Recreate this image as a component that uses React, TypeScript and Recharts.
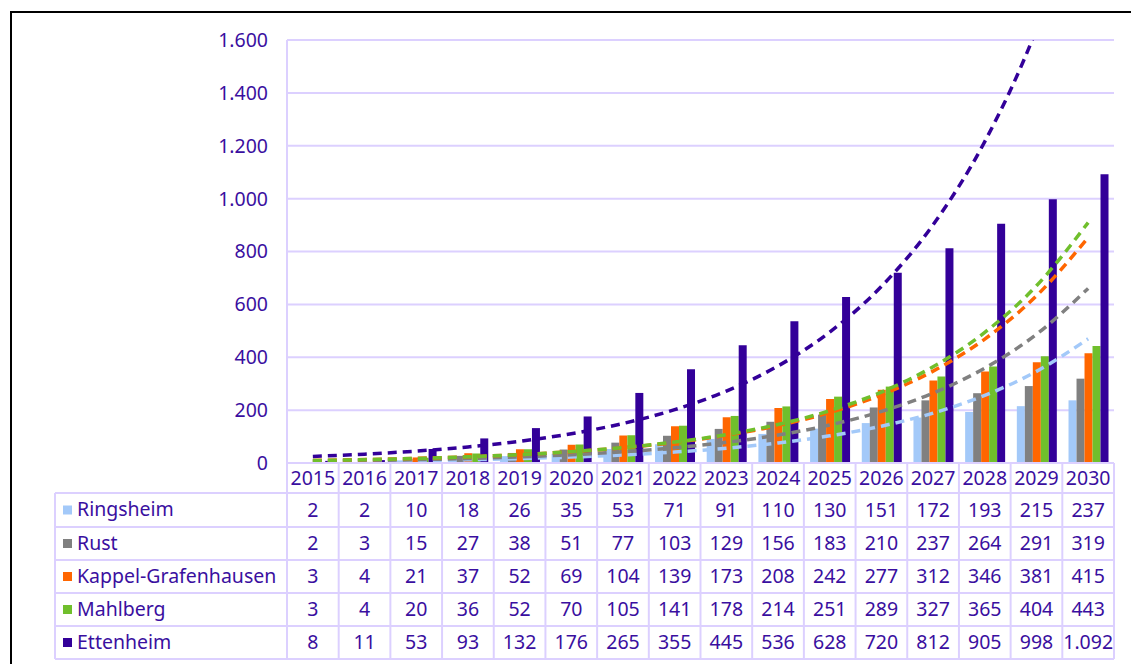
import React from "react";
import { BarChart, Bar, Line, XAxis, YAxis, CartesianGrid } from "recharts";

// Charging points per municipality, 2015–2030
const years = ["2015", "2016", "2017", "2018", "2019", "2020", "2021", "2022", "2023", "2024", "2025", "2026", "2027", "2028", "2029", "2030"];
const ringsheim = [2, 2, 10, 18, 26, 35, 53, 71, 91, 110, 130, 151, 172, 193, 215, 237];
const rust = [2, 3, 15, 27, 38, 51, 77, 103, 129, 156, 183, 210, 237, 264, 291, 319];
const kappel = [3, 4, 21, 37, 52, 69, 104, 139, 173, 208, 242, 277, 312, 346, 381, 415];
const mahlberg = [3, 4, 20, 36, 52, 70, 105, 141, 178, 214, 251, 289, 327, 365, 404, 443];
const ettenheim = [8, 11, 53, 93, 132, 176, 265, 355, 445, 536, 628, 720, 812, 905, 998, 1092];
const yTicks = [0, 200, 400, 600, 800, 1000, 1200, 1400, 1600];

const seriesNames = ["Ringsheim", "Rust", "Kappel-Grafenhausen", "Mahlberg", "Ettenheim"];
const seriesKeys = ["ringsheim", "rust", "kappel", "mahlberg", "ettenheim"];
const seriesValues = [ringsheim, rust, kappel, mahlberg, ettenheim];
const seriesColors = ["#A3C9F9", "#808080", "#FF6600", "#70BF2C", "#330099"];

const TEXT = "#3A0FA0";
const GRID = "#DCD0FF";
const FONT = "'Noto Sans', 'Open Sans', sans-serif";
const FONT_SIZE = 19.5;

// Layout
const W = 1131;
const H = 664;
const PLOT_LEFT = 287;
const PLOT_RIGHT = 1114;
const PLOT_TOP = 40;
const PLOT_BOTTOM = 463;
const COL_W = (PLOT_RIGHT - PLOT_LEFT) / years.length;
const TABLE_LEFT = 55;
const ROW_LINES = [493, 527, 560, 593, 626, 659];

// Exponential least-squares trendline (fit of ln(y) against x)
function expTrend(values: number[]): number[] {
  const n = values.length;
  const xs = values.map((_, i) => i + 1);
  const ls = values.map((v) => Math.log(v));
  const mx = xs.reduce((a, b) => a + b, 0) / n;
  const my = ls.reduce((a, b) => a + b, 0) / n;
  let sxy = 0;
  let sxx = 0;
  for (let i = 0; i < n; i++) {
    sxy += (xs[i] - mx) * (ls[i] - my);
    sxx += (xs[i] - mx) * (xs[i] - mx);
  }
  const b = sxy / sxx;
  const a = my - b * mx;
  return xs.map((x) => Math.exp(a + b * x));
}

const trends = seriesValues.map(expTrend);

const data = years.map((year, i) => {
  const row: Record<string, number | string> = { year };
  seriesKeys.forEach((k, s) => {
    row[k] = seriesValues[s][i];
    row[k + "Trend"] = trends[s][i];
  });
  return row;
});

const fmt = (v: number) => String(v).replace(/\B(?=(\d{3})+(?!\d))/g, ".");

// Each x-axis tick draws one column of the data table beneath the plot
function TableColumn(props: any) {
  const { x, index, payload } = props;
  const left = x - COL_W / 2;
  const right = x + COL_W / 2;
  const isLast = index === years.length - 1;
  const textStyle = { fill: TEXT, fontSize: FONT_SIZE, fontFamily: FONT };
  return (
    <g>
      {index === 0 && (
        <g>
          {ROW_LINES.map((ly) => (
            <line key={ly} x1={TABLE_LEFT} x2={PLOT_RIGHT} y1={ly} y2={ly} stroke={GRID} strokeWidth={2} />
          ))}
          <line x1={TABLE_LEFT} x2={TABLE_LEFT} y1={ROW_LINES[0]} y2={ROW_LINES[5]} stroke={GRID} strokeWidth={2} />
          {seriesNames.map((name, s) => {
            const cy = (ROW_LINES[s] + ROW_LINES[s + 1]) / 2;
            return (
              <g key={name}>
                <rect x={63} y={cy - 4.5} width={9} height={9} fill={seriesColors[s]} />
                <text x={77} y={cy} dy="0.33em" {...textStyle}>{name}</text>
              </g>
            );
          })}
        </g>
      )}
      <line x1={left} x2={left} y1={PLOT_BOTTOM} y2={ROW_LINES[5]} stroke={GRID} strokeWidth={2} />
      {isLast && <line x1={right} x2={right} y1={PLOT_BOTTOM} y2={ROW_LINES[5]} stroke={GRID} strokeWidth={2} />}
      <text x={x} y={(PLOT_BOTTOM + ROW_LINES[0]) / 2} dy="0.35em" textAnchor="middle" {...textStyle}>
        {payload.value}
      </text>
      {seriesValues.map((vals, s) => (
        <text key={s} x={x} y={(ROW_LINES[s] + ROW_LINES[s + 1]) / 2} dy="0.35em" textAnchor="middle" {...textStyle}>
          {fmt(vals[index])}
        </text>
      ))}
    </g>
  );
}

export default function App() {
  return (
    <div style={{ position: "absolute", left: 0, top: 0, width: W, height: H, overflow: "hidden", background: "#fff" }}>
      <div
        style={{
          position: "absolute",
          left: 10,
          top: 11,
          width: W + 20,
          height: H + 20,
          borderTop: "2px solid #000",
          borderLeft: "2px solid #000",
        }}
      />
      <div style={{ position: "absolute", left: 0, top: 0 }}>
        <BarChart
          width={W}
          height={H}
          data={data}
          margin={{ top: PLOT_TOP, right: W - PLOT_RIGHT, left: 0, bottom: 0 }}
          barCategoryGap="12%"
          barGap={0}
        >
          <CartesianGrid vertical={false} stroke={GRID} strokeWidth={2} />
          <XAxis
            dataKey="year"
            height={H - PLOT_BOTTOM}
            interval={0}
            tickLine={false}
            axisLine={{ stroke: GRID, strokeWidth: 2 }}
            tick={<TableColumn />}
          />
          <YAxis
            width={PLOT_LEFT}
            domain={[0, 1600]}
            ticks={yTicks}
            allowDataOverflow
            tickFormatter={fmt}
            tickLine={false}
            tickSize={0}
            tickMargin={19}
            axisLine={{ stroke: GRID, strokeWidth: 2 }}
            tick={{ fill: TEXT, fontSize: FONT_SIZE, fontFamily: FONT }}
          />
          {seriesKeys.map((k, s) => (
            <Bar key={k} dataKey={k} name={seriesNames[s]} fill={seriesColors[s]} isAnimationActive={false} />
          ))}
          {seriesKeys.map((k, s) => (
            <Line
              key={k + "Trend"}
              dataKey={k + "Trend"}
              type="monotone"
              stroke={seriesColors[s]}
              strokeWidth={3.5}
              strokeDasharray="9 6"
              dot={false}
              activeDot={false}
              isAnimationActive={false}
            />
          ))}
        </BarChart>
      </div>
    </div>
  );
}
